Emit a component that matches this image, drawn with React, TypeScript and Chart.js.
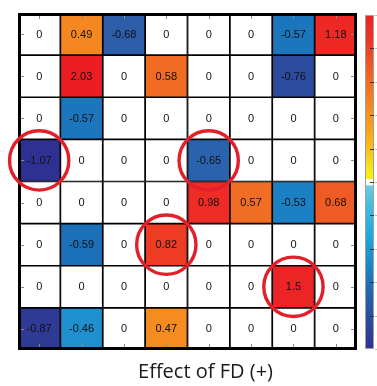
import React, { useEffect, useRef } from "react";
import { Chart, registerables } from "chart.js";

Chart.register(...registerables);

const columns = ["1", "2", "3", "4", "5", "6", "7", "8"];
const row1 = [0, 0.49, -0.68, 0, 0, 0, -0.57, 1.18];
const row2 = [0, 2.03, 0, 0.58, 0, 0, -0.76, 0];
const row3 = [0, -0.57, 0, 0, 0, 0, 0, 0];
const row4 = [-1.07, 0, 0, 0, -0.65, 0, 0, 0];
const row5 = [0, 0, 0, 0, 0.98, 0.57, -0.53, 0.68];
const row6 = [0, -0.59, 0, 0.82, 0, 0, 0, 0];
const row7 = [0, 0, 0, 0, 0, 0, 1.5, 0];
const row8 = [-0.87, -0.46, 0, 0.47, 0, 0, 0, 0];
const rows = [row1, row2, row3, row4, row5, row6, row7, row8];
// highlighted cells: [row, column]
const circled = [
  [3, 0],
  [3, 4],
  [5, 3],
  [6, 6],
];
const titleText = "Effect of FD (+)";

const posStops: [number, string][] = [
  [0, "#FFF200"],
  [0.3, "#FBB117"],
  [0.48, "#F58A21"],
  [0.57, "#F16D23"],
  [0.68, "#F05A24"],
  [0.82, "#EE3B24"],
  [1.0, "#EE2A25"],
  [2.1, "#EC1C24"],
];
const negStops: [number, string][] = [
  [0, "#6DCADD"],
  [0.46, "#1E90CF"],
  [0.53, "#1C80C4"],
  [0.57, "#1C76BD"],
  [0.59, "#1B70B8"],
  [0.65, "#2A62AD"],
  [0.68, "#2D5CA8"],
  [0.76, "#2B4C9E"],
  [0.87, "#2E3A94"],
  [1.07, "#2E3192"],
  [3, "#2E3192"],
];
const barStops: [number, string][] = [
  [0, "#ED2024"],
  [0.075, "#EE3524"],
  [0.134, "#F05024"],
  [0.21, "#F47021"],
  [0.284, "#F68D1F"],
  [0.343, "#F9A21B"],
  [0.4, "#FBBE16"],
  [0.457, "#F8E11E"],
  [0.49, "#FFF200"],
  [0.492, "#FFFFFF"],
  [0.508, "#FFFFFF"],
  [0.512, "#6DCADD"],
  [0.58, "#3CBCE2"],
  [0.67, "#1AA6DD"],
  [0.75, "#1B86C7"],
  [0.82, "#1F6AB2"],
  [0.91, "#2A4C9F"],
  [1.0, "#2E3192"],
];

function hexToRgb(h: string) {
  const n = parseInt(h.slice(1), 16);
  return [(n >> 16) & 255, (n >> 8) & 255, n & 255];
}
function interp(stops: [number, string][], v: number) {
  if (v <= stops[0][0]) return stops[0][1];
  for (let i = 1; i < stops.length; i++) {
    if (v <= stops[i][0]) {
      const [a, ca] = stops[i - 1];
      const [b, cb] = stops[i];
      const t = (v - a) / (b - a);
      const A = hexToRgb(ca);
      const B = hexToRgb(cb);
      const c = A.map((x, k) => Math.round(x + (B[k] - x) * t));
      return `rgb(${c[0]},${c[1]},${c[2]})`;
    }
  }
  return stops[stops.length - 1][1];
}
function cellColor(v: number) {
  if (v === 0) return "#FFFFFF";
  return v > 0 ? interp(posStops, v) : interp(negStops, -v);
}

const decorPlugin = {
  id: "decor",
  afterDatasetsDraw(chart: any) {
    const ctx = chart.ctx;
    const area = chart.chartArea;
    const xs = chart.scales.x;
    const ys = chart.scales.y;
    ctx.save();
    // values
    ctx.font = "11px 'Liberation Sans', Arial, sans-serif";
    ctx.fillStyle = "#111";
    ctx.textAlign = "center";
    ctx.textBaseline = "middle";
    chart.data.datasets.forEach((ds: any, di: number) => {
      const meta = chart.getDatasetMeta(di);
      meta.data.forEach((el: any, ci: number) => {
        const v = rows[di][ci];
        const cy = (el.y + el.base) / 2;
        ctx.fillText(String(v), el.x, cy + 0.5);
      });
    });
    // small inner ticks
    ctx.strokeStyle = "#8a8a8a";
    ctx.lineWidth = 1;
    for (let i = 0; i < columns.length; i++) {
      const x = Math.round(xs.getPixelForValue(i)) + 0.5;
      ctx.beginPath();
      ctx.moveTo(x, area.top + 3);
      ctx.lineTo(x, area.top + 6);
      ctx.moveTo(x, area.bottom - 3);
      ctx.lineTo(x, area.bottom - 6);
      ctx.stroke();
    }
    for (let r = 0; r < rows.length; r++) {
      const y = Math.round(ys.getPixelForValue(r + 0.5)) + 0.5;
      ctx.beginPath();
      ctx.moveTo(area.left + 3, y);
      ctx.lineTo(area.left + 6, y);
      ctx.moveTo(area.right - 3, y);
      ctx.lineTo(area.right - 6, y);
      ctx.stroke();
    }
    // frame
    ctx.strokeStyle = "#000";
    ctx.lineWidth = 3;
    ctx.strokeRect(area.left + 1.5, area.top + 1.5, area.right - area.left - 3, area.bottom - area.top - 3);
    // circles
    const cw = xs.getPixelForValue(1) - xs.getPixelForValue(0);
    ctx.strokeStyle = "#E3202A";
    ctx.lineWidth = 3.4;
    circled.forEach(([r, c]) => {
      const cx = xs.getPixelForValue(c);
      const cy = ys.getPixelForValue(r + 0.5);
      ctx.beginPath();
      ctx.arc(cx, cy, cw * 0.7, 0, Math.PI * 2);
      ctx.stroke();
    });
    // colorbar
    const bx = 365, bw = 9, by = 15, bh = 334;
    const g = ctx.createLinearGradient(0, by, 0, by + bh);
    barStops.forEach(([t, c]) => g.addColorStop(t, c));
    ctx.fillStyle = g;
    ctx.fillRect(bx, by, bw, bh);
    ctx.strokeStyle = "#a0a0a0";
    ctx.lineWidth = 1;
    ctx.strokeRect(bx + 0.5, by + 0.5, bw - 1, bh - 1);
    ctx.strokeStyle = "#333";
    for (let k = 1; k < 10; k++) {
      const y = Math.round(by + (bh * k) / 10) + 0.5;
      ctx.beginPath();
      ctx.moveTo(bx + bw - 4, y);
      ctx.lineTo(bx + bw, y);
      ctx.stroke();
    }
    ctx.strokeStyle = "#bbb";
    for (let k = 0; k <= 10; k++) {
      const y = Math.round(by + (bh * k) / 10) + 0.5;
      ctx.beginPath();
      ctx.moveTo(bx + bw + 1, y);
      ctx.lineTo(bx + bw + 3, y);
      ctx.stroke();
    }
    // title
    ctx.fillStyle = "#1a1a1a";
    ctx.font = "20px 'Open Sans', sans-serif";
    ctx.textAlign = "center";
    ctx.textBaseline = "alphabetic";
    ctx.fillText(titleText, 205.5, 377.5);
    ctx.restore();
  },
};

export default function App() {
  const ref = useRef<HTMLCanvasElement>(null);
  useEffect(() => {
    document.body.style.margin = "0";
    const chart = new Chart(ref.current as HTMLCanvasElement, {
      type: "bar",
      data: {
        labels: columns,
        datasets: rows.map((row, r) => ({
          label: "row " + (r + 1),
          data: row.map(() => 1),
          backgroundColor: row.map(cellColor),
          borderColor: "#000",
          borderWidth: 1.2,
          borderSkipped: false,
          barPercentage: 1,
          categoryPercentage: 1,
          stack: "s",
        })),
      },
      options: {
        responsive: false,
        animation: false,
        devicePixelRatio: 1,
        layout: { padding: { left: 18, top: 13, right: 20, bottom: 36 } },
        plugins: { legend: { display: false }, tooltip: { enabled: false }, title: { display: false } },
        scales: {
          x: { stacked: true, display: false },
          y: { stacked: true, display: false, min: 0, max: 8, reverse: true },
        },
      },
      plugins: [decorPlugin],
    });
    return () => chart.destroy();
  }, []);
  return (
    <div style={{ position: "absolute", left: 0, top: 0, width: 377, height: 386, background: "#fff" }}>
      <canvas ref={ref} width={377} height={386} />
    </div>
  );
}
